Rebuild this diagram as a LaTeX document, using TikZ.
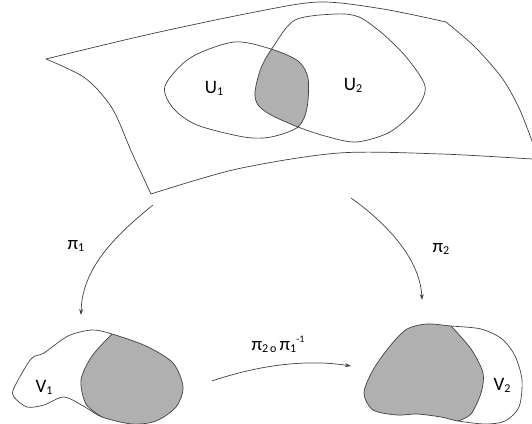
\documentclass[tikz,border=0pt]{standalone}
\usepackage{fontspec}
\setmainfont{Carlito}
\usetikzlibrary{arrows.meta}
\newcommand\lsub[1]{\raisebox{-2pt}{\fontsize{12}{12}\selectfont #1}}
\newcommand\lsup[1]{\raisebox{8pt}{\fontsize{10}{10}\selectfont #1}}
\begin{document}
\begin{tikzpicture}[x=1pt,y=-1pt,
  line/.style={draw=black!75,line width=0.7pt},
  shade/.style={fill=black!31},
  lbl/.style={font=\fontsize{19}{19}\selectfont,inner sep=0pt},
  maparrow/.style={line,-{Stealth[length=6pt,width=4pt]}}]
\useasboundingbox (0,0) rectangle (532,423);
\clip (0,0) rectangle (532,423);
% surface
\draw[line] plot[smooth] coordinates {(46,59) (146,35) (250,13) (319,2) (383,9) (446,22)};
\draw[line] plot[smooth] coordinates {(446,22) (475,47) (502,78) (519,108) (532,141) (540,165)};
\draw[line] plot[smooth] coordinates {(151,194) (237,169) (339,153) (441,154) (532,159) (545,160)};
\draw[line] plot[smooth] coordinates {(46,59) (85,78) (112,108) (132,153) (151,194)};
% U1, U2
\def\Uone{plot[smooth cycle] coordinates {(165,86) (190,58) (234,42) (271,49) (298,61) (308,78) (307,108) (298,127) (271,137) (244,137) (197,125) (173,108)}}
\def\Utwo{plot[smooth cycle] coordinates {(255,92) (261,68) (273,47) (295,20) (336,14) (359,17) (383,34) (407,58) (425,86) (417,108) (390,132) (356,142) (325,136) (298,127) (271,115) (258,105)}}
\begin{scope}
\clip \Uone;
\fill[shade] \Utwo;
\end{scope}
\draw[line] \Uone;
\draw[line] \Utwo;
\node[lbl] (u1) at (214,88) {U\lsub{1}};
\node[lbl] (u2) at (353,85) {U\lsub{2}};
% V1
\def\Vone{plot[smooth cycle] coordinates {(14,388) (31,359) (44,353) (68,336) (92,330) (112,334) (146,346) (173,363) (183,387) (176,407) (156,421) (132,424) (102,417) (85,407) (64,397) (44,405) (27,407) (14,397)}}
\begin{scope}
\clip \Vone;
\fill[shade] plot[smooth] coordinates {(112,334) (92,356) (81,380) (86,404) (102,417)} -- (110,440) -- (220,440) -- (220,300) -- (115,300) -- cycle;
\end{scope}
\draw[line] \Vone;
\draw[line] plot[smooth] coordinates {(112,334) (92,356) (81,380) (86,404) (102,417)};
\node[lbl] (v1) at (44,387) {V\lsub{1}};
% V2
\def\Vtwo{plot[smooth cycle] coordinates {(364,393) (373,370) (390,346) (407,329) (427,324) (451,326) (481,329) (502,339) (515,356) (522,380) (519,407) (505,421) (485,424) (458,421) (441,417) (417,414) (397,415) (373,410)}}
\begin{scope}
\clip \Vtwo;
\fill[shade] plot[smooth] coordinates {(451,326) (471,349) (483,373) (481,393) (471,414) (458,421)} -- (455,440) -- (340,440) -- (340,300) -- (450,300) -- cycle;
\end{scope}
\draw[line] \Vtwo;
\draw[line] plot[smooth] coordinates {(451,326) (471,349) (483,373) (481,393) (471,414) (458,421)};
\node[lbl] (v2) at (502,385) {V\lsub{2}};
% arrows
\coordinate (a1s) at (153,205);
\coordinate (a1e) at (81,315);
\coordinate (a2s) at (351,198);
\coordinate (a2e) at (422,300);
\coordinate (a3s) at (212,381);
\coordinate (a3e) at (351,366);
\draw[maparrow] (a1s) .. controls (112,238) and (82,270) .. (a1e);
\draw[maparrow] (a2s) .. controls (385,222) and (420,258) .. (a2e);
\draw[maparrow] (a3s) .. controls (250,368) and (300,358) .. (a3e);
\node[lbl] (p1) at (76,246) {π\lsub{1}};
\node[lbl] (p2) at (441,249) {π\lsub{2}};
\node[lbl] (p21) at (278,344) {π\lsub{2\,o}\,π\lsub{1}\lsup{-1}};
\end{tikzpicture}
\end{document}
